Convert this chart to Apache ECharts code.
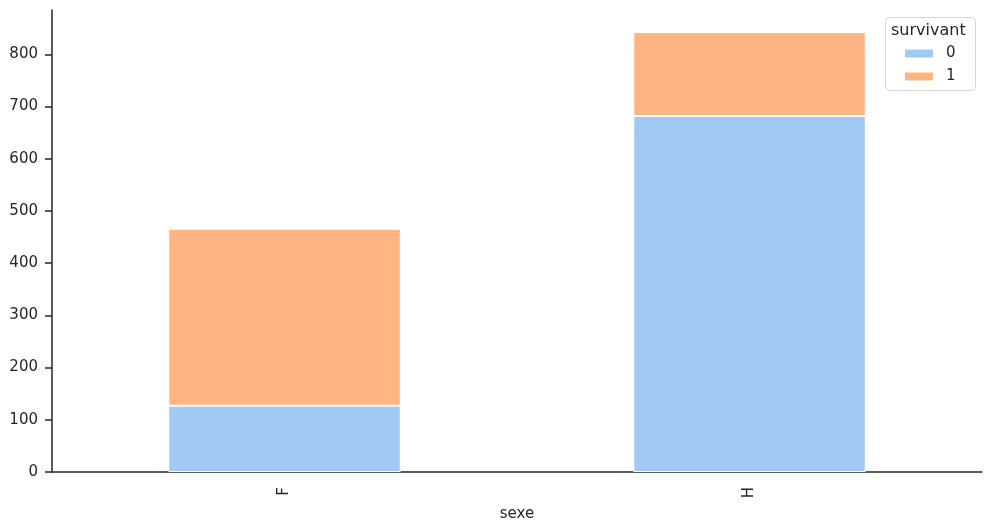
<!DOCTYPE html>
<html>
<head>
<meta charset="utf-8">
<script src="https://cdn.jsdelivr.net/npm/echarts@6/dist/echarts.min.js"></script>
<style>html,body{margin:0;padding:0;background:#fff}#c{width:992px;height:527px}</style>
</head>
<body>
<div id="c"></div>
<script>
const categories = ['F', 'H'];
const seriesNames = ['0', '1'];
const values0 = [127, 682];
const values1 = [339, 161];
const yTicks = [0, 100, 200, 300, 400, 500, 600, 700, 800];
const legendTitle = 'survivant';
const xName = 'sexe';

const font = 'DejaVu Sans';
const ink = '#262626';
const chart = echarts.init(document.getElementById('c'), null, {renderer: 'canvas'});
chart.setOption({
  animation: false,
  backgroundColor: '#fff',
  textStyle: {fontFamily: font},
  grid: {left: 52, right: 10, top: 10, bottom: 55, containLabel: false},
  xAxis: {
    type: 'category',
    data: categories,
    boundaryGap: true,
    name: xName,
    nameLocation: 'middle',
    nameGap: 29,
    nameTextStyle: {fontFamily: font, fontSize: 15, color: ink},
    axisLine: {lineStyle: {color: ink, width: 1.5}},
    axisTick: {alignWithLabel: true, length: 7, lineStyle: {color: ink, width: 1.5}},
    axisLabel: {rotate: 90, fontFamily: font, fontSize: 15, color: ink, margin: 15},
    splitLine: {show: false}
  },
  yAxis: {
    type: 'value',
    min: 0,
    max: 885,
    interval: 100,
    axisLine: {show: true, lineStyle: {color: ink, width: 1.5}},
    axisTick: {show: true, length: 7, lineStyle: {color: ink, width: 1.5}, customValues: yTicks},
    axisLabel: {fontFamily: font, fontSize: 15, color: ink, margin: 14, customValues: yTicks},
    splitLine: {show: false}
  },
  legend: {
    orient: 'vertical',
    left: 903,
    top: 46,
    padding: [0, 0, 0, 0],
    itemWidth: 30,
    itemHeight: 10,
    itemGap: 8,
    icon: 'rect',
    textStyle: {fontFamily: font, fontSize: 15, color: ink, padding: [0, 0, 0, 7]},
    data: seriesNames
  },
  graphic: [
    {type: 'rect', left: 885, top: 17, shape: {width: 90, height: 73, r: 4}, style: {fill: 'rgba(255,255,255,0.8)', stroke: '#d6d6d6', lineWidth: 1}, z: -1},
    {type: 'text', left: 891, top: 23, style: {text: legendTitle, font: '16px "DejaVu Sans"', fill: ink}}
  ],
  series: [
    {name: seriesNames[0], type: 'bar', stack: 'total', data: values0, barWidth: '50%',
     itemStyle: {color: '#a1c9f4', borderColor: '#fff', borderWidth: 1}},
    {name: seriesNames[1], type: 'bar', stack: 'total', data: values1, barWidth: '50%',
     itemStyle: {color: '#ffb482', borderColor: '#fff', borderWidth: 1}}
  ]
});
</script>
</body>
</html>
